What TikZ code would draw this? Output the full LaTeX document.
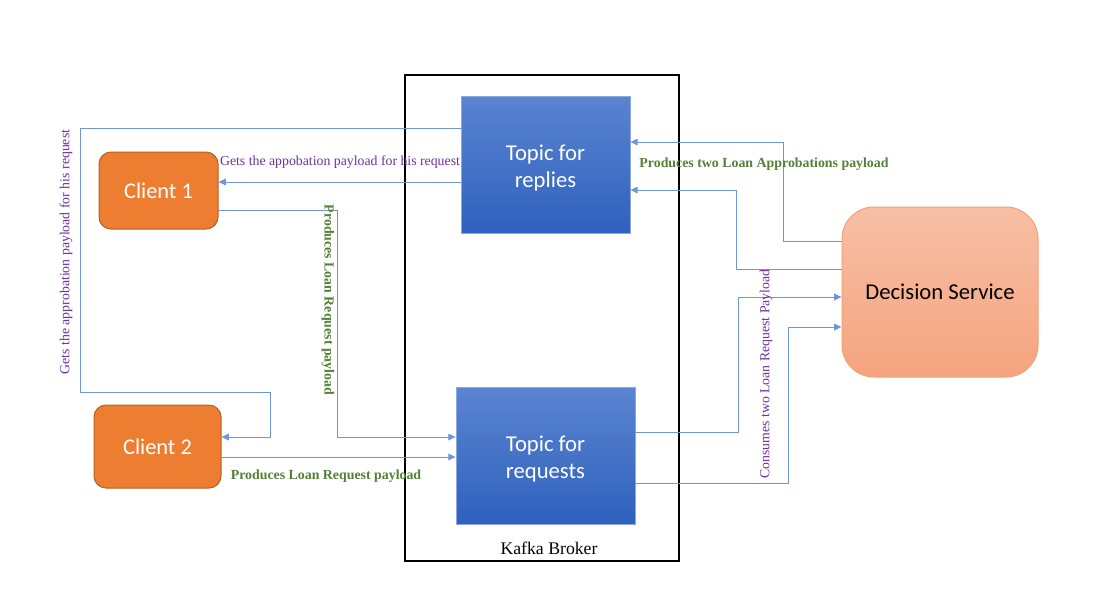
\documentclass[tikz,border=0pt]{standalone}
\usepackage{fontspec}
\setmainfont{Liberation Serif}
\newfontfamily\calibri{Carlito}
\usetikzlibrary{arrows.meta}
\def\pxu{0.75pt}
\definecolor{linkblue}{HTML}{6F96DC}
\definecolor{topictop}{HTML}{5B84D1}
\definecolor{topicbot}{HTML}{2E61BD}
\definecolor{clientor}{HTML}{ED7D31}
\definecolor{clientbd}{HTML}{B85F22}
\definecolor{dstop}{HTML}{F7BFA5}
\definecolor{dsbot}{HTML}{F5A47F}
\definecolor{dsbd}{HTML}{F2A274}
\definecolor{lblpurple}{HTML}{7030A0}
\definecolor{lblgreen}{HTML}{538135}
\tikzset{
  topic/.style={rectangle, draw=topictop!70!white, line width=0.6pt, top color=topictop, bottom color=topicbot,
    inner sep=0pt},
  topictext/.style={text=white, font=\calibri\fontsize{17}{20.5}\selectfont, align=center, inner sep=0pt, yshift=-2.4pt},
  client/.style={rectangle, rounded corners=9pt, draw=clientbd, line width=0.75pt, fill=clientor,
    text=white, font=\calibri\fontsize{16.8}{20}\selectfont, inner sep=0pt},
  service/.style={rectangle, rounded corners=24pt, draw=dsbd, line width=0.75pt, top color=dstop, bottom color=dsbot,
    text=black, font=\calibri\fontsize{17}{20}\selectfont, inner sep=0pt},
  broker/.style={rectangle, draw=black, line width=1pt, inner sep=0pt},
  link/.style={draw=linkblue, line width=0.75pt, -{Triangle[length=5.5pt,width=5pt]}},
  plabel/.style={text=lblpurple, font=\fontsize{10.35}{12}\selectfont, inner sep=0pt},
  glabel/.style={text=lblgreen, font=\bfseries\fontsize{10.4}{12}\selectfont, inner sep=0pt},
}
\begin{document}
\begin{tikzpicture}[x=0.75pt,y=-0.75pt]
\path[fill=white] (0,0) rectangle (1119,612);
\useasboundingbox (0,0) rectangle (1119,612);

% Kafka broker frame
\node[broker, minimum width=274*\pxu, minimum height=486*\pxu] (broker) at (542,318) {};
\node[font=\fontsize{13.3}{15}\selectfont, inner sep=0pt] (brokerlbl) at (549,548) {Kafka Broker};

% topics
\node[topic, minimum width=169*\pxu, minimum height=137*\pxu,
      label={[topictext]center:{Topic for\\replies}}] (rep) at (545.5,164.5) {};
\node[topic, minimum width=179*\pxu, minimum height=137*\pxu,
      label={[topictext]center:{Topic for\\requests}}] (req) at (545.5,455.5) {};

% clients
\node[client, minimum width=119*\pxu, minimum height=77*\pxu] (c1) at (158.5,190.5) {Client 1};
\node[client, minimum width=127*\pxu, minimum height=83*\pxu] (c2) at (157.5,446.5) {Client 2};

% decision service
\node[service, minimum width=196*\pxu, minimum height=170*\pxu] (ds) at (940,292) {Decision Service};

% waypoints
\coordinate (w1) at (80,128);
\coordinate (w2) at (80,392);
\coordinate (w3) at (270,392);
\coordinate (w4) at (337,210);
\coordinate (w5) at (783,241);
\coordinate (w6) at (736,269);
\coordinate (w7) at (738,432);
\coordinate (w8) at (788,483);

% connectors
\draw[link] (rep.west |- 0,182) -- (c1.east |- 0,182);
\draw[link] (rep.west |- w1) -- (w1) -- (w2) -- (w3) -- (w3 |- 0,437) -- (c2.east |- 0,437);
\draw[link] (c1.east |- w4) -- (w4) -- (w4 |- 0,437) -- (req.west |- 0,437);
\draw[link] (c2.east |- 0,457) -- (req.west |- 0,457);
\draw[link] (ds.west |- w5) -- (w5) -- (w5 |- 0,142) -- (rep.east |- 0,142);
\draw[link] (ds.west |- w6) -- (w6) -- (w6 |- 0,190) -- (rep.east |- 0,190);
\draw[link] (req.east |- w7) -- (w7) -- (w7 |- 0,297) -- (ds.west |- 0,297);
\draw[link] (req.east |- w8) -- (w8) -- (w8 |- 0,327) -- (ds.west |- 0,327);

% labels
\node[plabel] (l1) at (340,162) {Gets the appobation payload for his request};
\node[plabel, rotate=90] (l2) at (66,252) {Gets the approbation payload for his request};
\node[glabel, rotate=-90] (l3) at (328,300) {Produces Loan Request payload};
\node[glabel] (l4) at (326,476) {Produces Loan Request payload};
\node[glabel] (l5) at (764,164) {Produces two Loan Approbations payload};
\node[plabel, rotate=90] (l6) at (766,374) {Consumes two Loan Request Payload};
\end{tikzpicture}
\end{document}
